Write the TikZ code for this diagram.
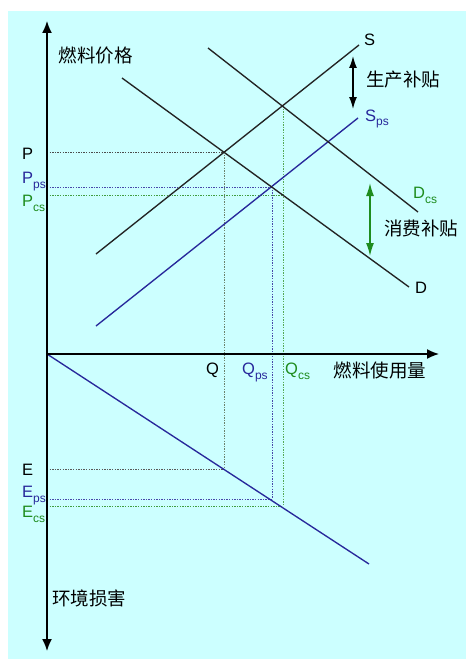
\documentclass[tikz,border=0pt]{standalone}
\usepackage{fontspec}
\setmainfont{Liberation Sans}
\newfontfamily\cjk{Noto Sans CJK SC}
\usetikzlibrary{arrows.meta}
\definecolor{bgc}{RGB}{204,255,255}
\definecolor{dblue}{RGB}{40,40,155}
\definecolor{dgreen}{RGB}{30,140,30}
\definecolor{lblack}{RGB}{35,35,35}
\newcommand{\sbx}[1]{\raisebox{-5pt}{\fontsize{12}{12}\selectfont #1}}
\begin{document}
\begin{tikzpicture}[x=1pt,y=-1pt,
  curve/.style={line width=1.35pt,draw=lblack},
  bcurve/.style={line width=1.35pt,draw=dblue},
  axis/.style={line width=1.5pt,draw=black},
  guide/.style={line width=1pt,dash pattern=on 1.4pt off 1.2pt},
  lbl/.style={anchor=base west,inner sep=0pt,font=\fontsize{16.5}{16.5}\selectfont},
  cjklbl/.style={inner sep=0pt,font=\cjk\fontsize{18.5}{18.5}\selectfont},
  tip/.style={-{Latex[length=12pt,width=10pt]}}]
\useasboundingbox (0,0) rectangle (467,661);
\fill[bgc] (8,11) rectangle (466,659);
% coordinates
\coordinate (O) at (47,354);
\coordinate (ytop) at (47,21);
\coordinate (ybot) at (47,651);
\coordinate (xend) at (439,354);
\coordinate (S1) at (96,254);
\coordinate (S2) at (359,45);
\coordinate (Sp1) at (96,326);
\coordinate (Sp2) at (358,118);
\coordinate (D1) at (122,78);
\coordinate (D2) at (409,287);
\coordinate (Dc1) at (208,48);
\coordinate (Dc2) at (418,212);
\coordinate (E2) at (369,564);
\coordinate (X0) at (224,152);
\coordinate (Xps) at (272,187);
\coordinate (Xcs) at (283,106);
\coordinate (Xcsd) at (283,195);
\coordinate (EQ) at (224,469);
\coordinate (Eps) at (272,499);
\coordinate (Ecs) at (283,506);
\coordinate (yP) at (47,152);
\coordinate (yPps) at (47,187);
\coordinate (yPcs) at (47,195);
\coordinate (yE) at (47,469);
\coordinate (yEps) at (47,499);
\coordinate (yEcs) at (47,506);
% guides
\draw[guide,draw=gray!60!black] (yP) -- (X0);
\draw[guide,draw=gray!80!dgreen] (X0) -- (EQ);
\draw[guide,draw=dblue!85] (yPps) -- (Xps);
\draw[guide,draw=dblue!85] (Xps) -- (Eps);
\draw[guide,draw=dgreen!85] (yPcs) -- (Xcsd);
\draw[guide,draw=dgreen!75] (Xcs) -- (Ecs);
\draw[guide,draw=gray!70!black] (yE) -- (EQ);
\draw[guide,draw=dblue!85] (yEps) -- (Eps);
\draw[guide,draw=dgreen!85] (yEcs) -- (Ecs);
% curves
\draw[curve] (S1) -- (S2);
\draw[bcurve] (Sp1) -- (Sp2);
\draw[curve] (D1) -- (D2);
\draw[curve] (Dc1) -- (Dc2);
\draw[bcurve] (O) -- (E2);
% axes
\draw[axis,{Latex[length=12pt,width=10pt]}-{Latex[length=12pt,width=10pt]}] (ytop) -- (ybot);
\draw[axis,tip] (O) -- (xend);
% subsidy arrows
\coordinate (a1) at (353,56);
\coordinate (a2) at (353,109);
\draw[line width=1.4pt,{Latex[length=12pt,width=8pt]}-{Latex[length=12pt,width=8pt]}] (a1) -- (a2);
\coordinate (g1) at (370,183);
\coordinate (g2) at (370,256);
\draw[line width=1.4pt,draw=dgreen,{Latex[length=13pt,width=8pt]}-{Latex[length=13pt,width=8pt]},fill=dgreen] (g1) -- (g2);
% texts
\node[cjklbl] (ty) at (95.5,55) {燃料价格};
\node[cjklbl] (tps) at (403,80) {生产补贴};
\node[cjklbl] (tcs) at (421,228) {消费补贴};
\node[cjklbl] (tx) at (380,370.5) {燃料使用量};
\node[cjklbl] (tE) at (89,598) {环境损害};
\node[lbl] (lS) at (364,46) {S};
\node[lbl,text=dblue] (lSps) at (365,121) {S\sbx{ps}};
\node[lbl,text=dgreen] (lDcs) at (413,198) {D\sbx{cs}};
\node[lbl] (lD) at (415,293) {D};
\node[lbl] (lP) at (22,159) {P};
\node[lbl,text=dblue] (lPps) at (22,183) {P\sbx{ps}};
\node[lbl,text=dgreen] (lPcs) at (22,206) {P\sbx{cs}};
\node[lbl] (lQ) at (206,374) {Q};
\node[lbl,text=dblue] (lQps) at (242,374) {Q\sbx{ps}};
\node[lbl,text=dgreen] (lQcs) at (285,374) {Q\sbx{cs}};
\node[lbl] (lE) at (22,475) {E};
\node[lbl,text=dblue] (lEps) at (22,497) {E\sbx{ps}};
\node[lbl,text=dgreen] (lEcs) at (22,517) {E\sbx{cs}};
\end{tikzpicture}
\end{document}
